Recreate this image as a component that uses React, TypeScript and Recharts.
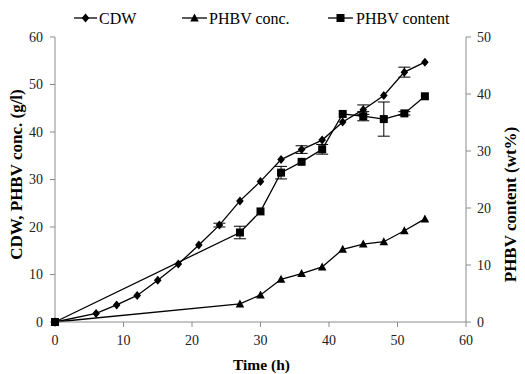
import React from 'react';
import { ComposedChart, Line, XAxis, YAxis, ErrorBar, Legend } from 'recharts';

const times = [0, 6, 9, 12, 15, 18, 21, 24, 27, 30, 33, 36, 39, 42, 45, 48, 51, 54];
const cdw = [0, 1.8, 3.6, 5.6, 8.8, 12.2, 16.2, 20.4, 25.5, 29.6, 34.2, 36.3, 38.3, 42.1, 44.7, 47.7, 52.6, 54.7];
const cdwErr = [0, 0, 0, 0, 0, 0, 0, 0.4, 0, 0, 0, 0.8, 0, 0, 1.0, 0, 1.05, 0];
const phbvConc = [0, null, null, null, null, null, null, null, 3.8, 5.7, 9.0, 10.2, 11.6, 15.3, 16.4, 16.9, 19.2, 21.7];
const phbvContent = [0, null, null, null, null, null, null, null, 15.7, 19.4, 26.2, 28.1, 30.3, 36.5, 36.1, 35.6, 36.6, 39.6];
const phbvContentErr = [0, null, null, null, null, null, null, null, 1.1, 0, 1.1, 0, 0.85, 0, 0.8, 3.0, 0.3, 0];

const xTicks = [0, 10, 20, 30, 40, 50, 60];
const leftTicks = [0, 10, 20, 30, 40, 50, 60];
const rightTicks = [0, 10, 20, 30, 40, 50];

const seriesNames = ['CDW', 'PHBV conc.', 'PHBV content'];
const xTitle = 'Time (h)';
const leftTitle = 'CDW, PHBV conc. (g/l)';
const rightTitle = 'PHBV content (wt%)';

const data = times.map((t, i) => ({
  t,
  cdw: cdw[i],
  cdwErr: cdwErr[i],
  conc: phbvConc[i],
  content: phbvContent[i],
  contentErr: phbvContentErr[i],
}));

const FONT = '"Liberation Serif", "Times New Roman", serif';
const AXIS = '#8c8c8c';
const TICK = { fontFamily: FONT, fontSize: 14, fill: '#222' };

const diamondPath = (cx: number, cy: number) =>
  `M${cx},${cy - 4.5} L${cx + 3.8},${cy} L${cx},${cy + 4.5} L${cx - 3.8},${cy} Z`;
const trianglePath = (cx: number, cy: number) =>
  `M${cx},${cy - 4.5} L${cx + 4.3},${cy + 3.5} L${cx - 4.3},${cy + 3.5} Z`;
const squarePath = (cx: number, cy: number) =>
  `M${cx - 4},${cy - 4} L${cx + 4},${cy - 4} L${cx + 4},${cy + 4} L${cx - 4},${cy + 4} Z`;

const makeDot = (fn: (cx: number, cy: number) => string, tag: string) => (props: any) => {
  const { cx, cy, index } = props;
  if (cx == null || cy == null || props.value == null) return <g key={`${tag}-${index}`} />;
  return <path key={`${tag}-${index}`} d={fn(cx, cy)} fill="#000" stroke="none" />;
};

const shapes = [diamondPath, trianglePath, squarePath];
const legendItems = [
  { x0: 74, x1: 97, tx: 99 },
  { x0: 182, x1: 207, tx: 209 },
  { x0: 328, x1: 353, tx: 356 },
];

const LegendContent = () => (
  <svg width={525} height={32} style={{ display: 'block' }}>
    {legendItems.map((it, i) => (
      <g key={i}>
        <line x1={it.x0} x2={it.x1} y1={13} y2={13} stroke="#000" strokeWidth={1.3} />
        <path d={shapes[i]((it.x0 + it.x1) / 2, 13)} fill="#000" />
        <text x={it.tx} y={18.5} fontFamily={FONT} fontSize={16} fill="#000">
          {seriesNames[i]}
        </text>
      </g>
    ))}
  </svg>
);

const LeftTitle = (props: any) => {
  const { viewBox } = props;
  const cx = viewBox.x + 16;
  const cy = viewBox.y + viewBox.height / 2 - 5;
  return (
    <text x={cx} y={cy} transform={`rotate(-90 ${cx} ${cy})`} textAnchor="middle" dominantBaseline="central"
      fontFamily={FONT} fontSize={17} fontWeight="bold" fill="#000">
      {leftTitle}
    </text>
  );
};

const RightTitle = (props: any) => {
  const { viewBox } = props;
  const cx = viewBox.x + 44;
  const cy = viewBox.y + viewBox.height / 2 + 25;
  return (
    <text x={cx} y={cy} transform={`rotate(-90 ${cx} ${cy})`} textAnchor="middle" dominantBaseline="central"
      fontFamily={FONT} fontSize={17} fontWeight="bold" fill="#000">
      {rightTitle}
    </text>
  );
};

const XTitle = (props: any) => {
  const { viewBox } = props;
  const cx = viewBox.x + viewBox.width / 2 + 1;
  const cy = viewBox.y + 48;
  return (
    <text x={cx} y={cy} textAnchor="middle" fontFamily={FONT} fontSize={15.5} fontWeight="bold" fill="#000">
      {xTitle}
    </text>
  );
};

export default function App() {
  return (
    <div style={{ position: 'absolute', left: 0, top: 0, width: 525, height: 374, background: '#fff' }}>
      <ComposedChart width={525} height={374} data={data} margin={{ top: 5, right: 0, bottom: 0, left: 0 }}>
        <Legend verticalAlign="top" content={<LegendContent />} wrapperStyle={{ left: 0, top: 5, width: 525, height: 32 }} />
        <XAxis dataKey="t" type="number" domain={[0, 60]} ticks={xTicks} height={52}
          axisLine={{ stroke: AXIS }} tickLine={{ stroke: AXIS }} tickSize={5} tickMargin={8}
          tick={TICK} label={<XTitle />} />
        <YAxis yAxisId="left" domain={[0, 60]} ticks={leftTicks} width={55}
          axisLine={{ stroke: AXIS }} tickLine={{ stroke: AXIS }} tickSize={5} tickMargin={7}
          tick={TICK} label={<LeftTitle />} />
        <YAxis yAxisId="right" orientation="right" domain={[0, 50]} ticks={rightTicks} width={59}
          axisLine={{ stroke: AXIS }} tickLine={{ stroke: AXIS }} tickSize={5} tickMargin={6}
          tick={TICK} label={<RightTitle />} />
        <Line yAxisId="left" dataKey="cdw" name={seriesNames[0]} stroke="#000" strokeWidth={1.3}
          isAnimationActive={false} connectNulls dot={makeDot(diamondPath, 'd')} activeDot={false}>
          <ErrorBar dataKey="cdwErr" direction="y" width={6} stroke="#000" strokeWidth={1} />
        </Line>
        <Line yAxisId="left" dataKey="conc" name={seriesNames[1]} stroke="#000" strokeWidth={1.3}
          isAnimationActive={false} connectNulls dot={makeDot(trianglePath, 't')} activeDot={false} />
        <Line yAxisId="right" dataKey="content" name={seriesNames[2]} stroke="#000" strokeWidth={1.3}
          isAnimationActive={false} connectNulls dot={makeDot(squarePath, 's')} activeDot={false}>
          <ErrorBar dataKey="contentErr" direction="y" width={6} stroke="#000" strokeWidth={1} />
        </Line>
      </ComposedChart>
    </div>
  );
}
